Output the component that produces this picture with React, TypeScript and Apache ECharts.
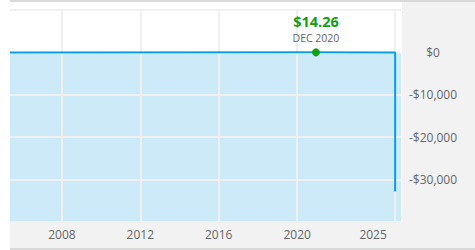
import React, { useEffect, useRef } from "react";
import * as echarts from "echarts";

// Account balance over time (decimal years on the x axis)
const dates: number[] = [2005.35, 2020.96, 2025.0, 2025.0];
const balances: number[] = [0, 14.26, 0, -32800];
const highlightIndex = 1;
const highlightLabel = "DEC 2020";

const yearTicks: number[] = [2008, 2012, 2016, 2020, 2025];
const balanceTicks: number[] = [0, -10000, -20000, -30000];

const X_MIN = 2005.35;
const X_MAX = 2025.3;
const Y_MIN = -40000;
const Y_MAX = 10000;
const Y_STEP = 10000;

const BLUE = "#07a0e3";
const FILL = "#cceaf7";
const GREEN = "#12a012";
const TEXT = "#666666";
const GRID_LINE = "#f0f0f0";
const PANEL = "#f2f2f2";
const EDGE = "#d9d9d9";
const FONT = "'Open Sans', 'Noto Sans', sans-serif";

function formatMoney(v: number): string {
  if (v === 0) return "$0";
  const s = Math.abs(v).toLocaleString("en-US");
  return (v < 0 ? "-$" : "$") + s;
}

export default function App() {
  const ref = useRef<HTMLDivElement>(null);

  useEffect(() => {
    if (!ref.current) return;
    const chart = echarts.init(ref.current, null, { renderer: "svg" });

    const lineData = dates.map((d, i) => {
      if (i === highlightIndex) {
        return {
          value: [d, balances[i]],
          symbol: "circle",
          symbolSize: 8,
          itemStyle: { color: GREEN },
          label: {
            show: true,
            position: "top",
            distance: 4,
            formatter: () =>
              `{a|${"$" + balances[i].toFixed(2)}}\n{b|${highlightLabel}}`,
            rich: {
              a: {
                color: GREEN,
                fontSize: 14.5,
                fontWeight: "bold",
                fontFamily: FONT,
                lineHeight: 19,
                align: "center",
              },
              b: {
                color: TEXT,
                fontSize: 10.5,
                fontFamily: FONT,
                lineHeight: 13,
                align: "center",
              },
            },
          },
        };
      }
      return { value: [d, balances[i]], symbol: "none" };
    });

    chart.setOption({
      animation: false,
      backgroundColor: "#ffffff",
      textStyle: { fontFamily: FONT },
      graphic: [
        // right-hand label panel
        {
          type: "rect",
          z: -10,
          shape: { x: 402, y: 2, width: 73, height: 246 },
          style: { fill: PANEL },
          silent: true,
        },
        // bottom label panel
        {
          type: "rect",
          z: -10,
          shape: { x: 10, y: 222, width: 465, height: 26 },
          style: { fill: PANEL },
          silent: true,
        },
        // top edge
        {
          type: "rect",
          z: -10,
          shape: { x: 10, y: 0, width: 465, height: 2 },
          style: { fill: EDGE },
          silent: true,
        },
        // bottom edge
        {
          type: "rect",
          z: -10,
          shape: { x: 10, y: 248, width: 465, height: 2 },
          style: { fill: EDGE },
          silent: true,
        },
      ],
      grid: { left: 10, right: 74, top: 10, bottom: 28, containLabel: false },
      xAxis: {
        type: "value",
        min: X_MIN,
        max: X_MAX,
        axisLine: { show: false },
        axisTick: { show: false, customValues: yearTicks },
        splitLine: { show: true, lineStyle: { color: GRID_LINE, width: 2 } },
        axisLabel: {
          customValues: yearTicks,
          margin: 6,
          color: TEXT,
          fontSize: 12,
          fontFamily: FONT,
          formatter: (v: number) =>
            v === yearTicks[yearTicks.length - 1] ? `{s|${v}}` : String(v),
          rich: {
            s: {
              color: TEXT,
              fontSize: 12,
              fontFamily: FONT,
              padding: [0, 44, 0, 0],
            },
          },
        },
      },
      yAxis: {
        type: "value",
        position: "right",
        min: Y_MIN,
        max: Y_MAX,
        interval: Y_STEP,
        axisLine: { show: false },
        axisTick: { show: false },
        splitLine: { show: true, lineStyle: { color: GRID_LINE, width: 2 } },
        axisLabel: {
          customValues: balanceTicks,
          align: "center",
          margin: 32,
          color: TEXT,
          fontSize: 12,
          fontFamily: FONT,
          formatter: (v: number) => formatMoney(v),
        },
      },
      series: [
        {
          // shaded region below zero, kept beneath the grid lines
          type: "line",
          z: -5,
          zlevel: 0,
          data: dates.map((d, i) => [d, balances[i]]),
          showSymbol: false,
          lineStyle: { opacity: 0 },
          silent: true,
          markArea: {
            z: -5,
            silent: true,
            itemStyle: { color: FILL },
            data: [[{ yAxis: 0 }, { yAxis: Y_MIN }]],
          },
        },
        {
          type: "line",
          z: 3,
          data: lineData,
          lineStyle: { color: BLUE, width: 2 },
          itemStyle: { color: BLUE },
          clip: false,
        },
      ],
    });

    return () => chart.dispose();
  }, []);

  return (
    <div
      ref={ref}
      style={{ position: "fixed", left: 0, top: 0, width: 475, height: 250 }}
    />
  );
}
